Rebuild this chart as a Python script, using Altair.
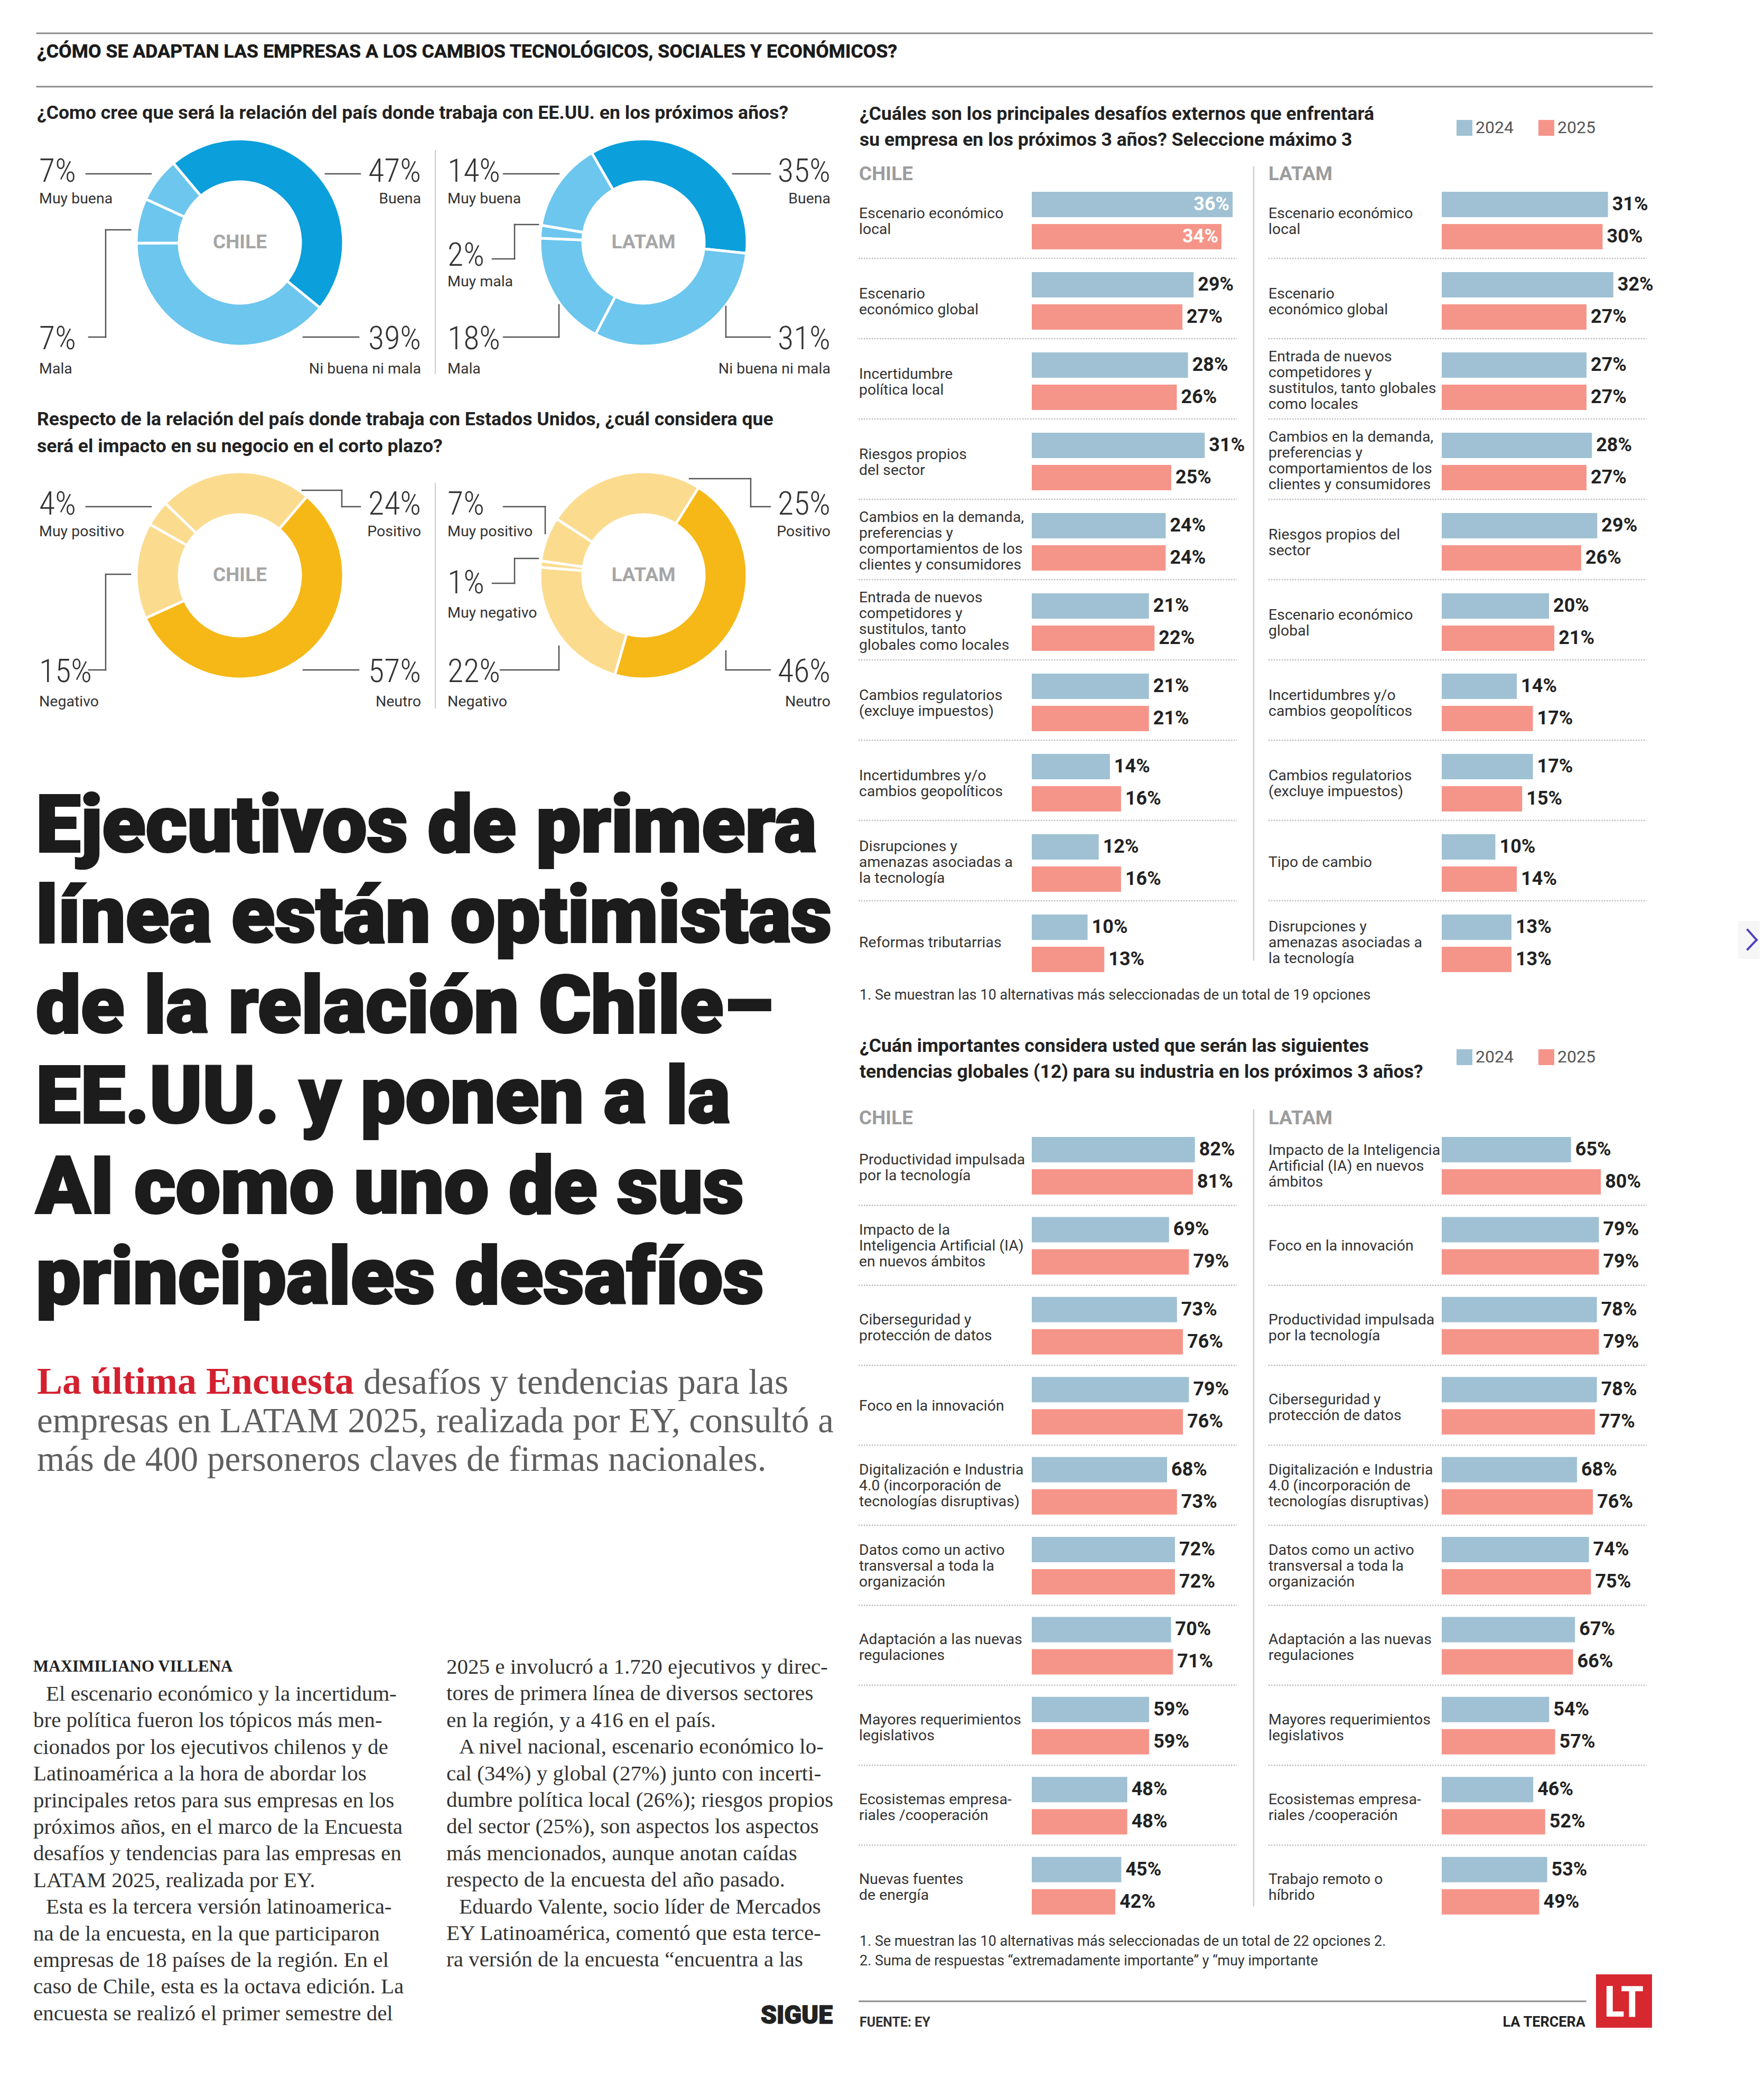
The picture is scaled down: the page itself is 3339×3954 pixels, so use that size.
import math
import altair as alt
import pandas as pd

# ---------------- data ----------------
YEARS = ["2024", "2025"]

REL_CHILE_CATS = ["Buena", "Ni buena ni mala", "Mala", "Muy buena"]
REL_CHILE_VALS = [47, 39, 7, 7]
REL_LATAM_CATS = ["Buena", "Ni buena ni mala", "Mala", "Muy mala", "Muy buena"]
REL_LATAM_VALS = [35, 31, 18, 2, 14]
IMP_CHILE_CATS = ["Positivo", "Neutro", "Negativo", "Muy positivo"]
IMP_CHILE_VALS = [24, 57, 15, 4]
IMP_LATAM_CATS = ["Positivo", "Neutro", "Negativo", "Muy negativo", "Muy positivo"]
IMP_LATAM_VALS = [25, 46, 22, 1, 7]

DES_CL_LABELS = ["Escenario económico\nlocal", "Escenario\neconómico global",
                 "Incertidumbre\npolítica local", "Riesgos propios\ndel sector",
                 "Cambios en la demanda,\npreferencias y\ncomportamientos de los\nclientes y consumidores",
                 "Entrada de nuevos\ncompetidores y\nsustitulos, tanto\nglobales como locales",
                 "Cambios regulatorios\n(excluye impuestos)", "Incertidumbres y/o\ncambios geopolíticos",
                 "Disrupciones y\namenazas asociadas a\nla tecnología", "Reformas tributarrias"]
DES_CL_2024 = [36, 29, 28, 31, 24, 21, 21, 14, 12, 10]
DES_CL_2025 = [34, 27, 26, 25, 24, 22, 21, 16, 16, 13]

DES_LT_LABELS = ["Escenario económico\nlocal", "Escenario\neconómico global",
                 "Entrada de nuevos\ncompetidores y\nsustitulos, tanto globales\ncomo locales",
                 "Cambios en la demanda,\npreferencias y\ncomportamientos de los\nclientes y consumidores",
                 "Riesgos propios del\nsector", "Escenario económico\nglobal",
                 "Incertidumbres y/o\ncambios geopolíticos", "Cambios regulatorios\n(excluye impuestos)",
                 "Tipo de cambio", "Disrupciones y\namenazas asociadas a\nla tecnología"]
DES_LT_2024 = [31, 32, 27, 28, 29, 20, 14, 17, 10, 13]
DES_LT_2025 = [30, 27, 27, 27, 26, 21, 17, 15, 14, 13]

TEN_CL_LABELS = ["Productividad impulsada\npor la tecnología",
                 "Impacto de la\nInteligencia Artificial (IA)\nen nuevos ámbitos",
                 "Ciberseguridad y\nprotección de datos", "Foco en la innovación",
                 "Digitalización e Industria\n4.0 (incorporación de\ntecnologías disruptivas)",
                 "Datos como un activo\ntransversal a toda la\norganización",
                 "Adaptación a las nuevas\nregulaciones", "Mayores requerimientos\nlegislativos",
                 "Ecosistemas empresa-\nriales /cooperación", "Nuevas fuentes\nde energía"]
TEN_CL_2024 = [82, 69, 73, 79, 68, 72, 70, 59, 48, 45]
TEN_CL_2025 = [81, 79, 76, 76, 73, 72, 71, 59, 48, 42]

TEN_LT_LABELS = ["Impacto de la Inteligencia\nArtificial (IA) en nuevos\námbitos",
                 "Foco en la innovación", "Productividad impulsada\npor la tecnología",
                 "Ciberseguridad y\nprotección de datos",
                 "Digitalización e Industria\n4.0 (incorporación de\ntecnologías disruptivas)",
                 "Datos como un activo\ntransversal a toda la\norganización",
                 "Adaptación a las nuevas\nregulaciones", "Mayores requerimientos\nlegislativos",
                 "Ecosistemas empresa-\nriales /cooperación", "Trabajo remoto o\nhíbrido"]
TEN_LT_2024 = [65, 79, 78, 78, 68, 74, 67, 54, 46, 53]
TEN_LT_2025 = [80, 79, 79, 77, 76, 75, 66, 57, 52, 49]

# ---------------- texts ----------------
HEADER = "¿CÓMO SE ADAPTAN LAS EMPRESAS A LOS CAMBIOS TECNOLÓGICOS, SOCIALES Y ECONÓMICOS?"
Q_REL = "¿Como cree que será la relación del país donde trabaja con EE.UU. en los próximos años?"
Q_IMP = ["Respecto de la relación del país donde trabaja con Estados Unidos, ¿cuál considera que",
         "será el impacto en su negocio en el corto plazo?"]
Q_DES = ["¿Cuáles son los principales desafíos externos que enfrentará",
         "su empresa en los próximos 3 años? Seleccione máximo 3"]
Q_TEN = ["¿Cuán importantes considera usted que serán las siguientes",
         "tendencias globales (12) para su industria en los próximos 3 años?"]
HEADLINE = ("Ejecutivos de primera\nlínea están optimistas\nde la relación Chile–\n"
            "EE.UU. y ponen a la\nAI como uno de sus\nprincipales desafíos")
# "|" at the start of a line marks a paragraph indent
LEFT_LINES = ["|El escenario económico y la incertidum-", "bre política fueron los tópicos más men-",
              "cionados por los ejecutivos chilenos y de", "Latinoamérica a la hora de abordar los",
              "principales retos para sus empresas en los", "próximos años, en el marco de la Encuesta",
              "desafíos y tendencias para las empresas en", "LATAM 2025, realizada por EY.",
              "|Esta es la tercera versión latinoamerica-", "na de la encuesta, en la que participaron",
              "empresas de 18 países de la región. En el", "caso de Chile, esta es la octava edición. La",
              "encuesta se realizó el primer semestre del"]
RIGHT_LINES = ["2025 e involucró a 1.720 ejecutivos y direc-", "tores de primera línea de diversos sectores",
               "en la región, y a 416 en el país.", "|A nivel nacional, escenario económico lo-",
               "cal (34%) y global (27%) junto con incerti-", "dumbre política local (26%); riesgos propios",
               "del sector (25%), son aspectos los aspectos", "más mencionados, aunque anotan caídas",
               "respecto de la encuesta del año pasado.", "|Eduardo Valente, socio líder de Mercados",
               "EY Latinoamérica, comentó que esta terce-", "ra versión de la encuesta “encuentra a las"]

# ---------------- styles ----------------
OFF = 8
SANS = "Roboto, 'Liberation Sans', sans-serif"
COND = "'Roboto Condensed', 'Liberation Sans Narrow', Roboto, sans-serif"
SERIF = "'Liberation Serif', 'DejaVu Serif', serif"
INK = "#222222"
GRAY_HEAD = "#9c9c9c"
DARK_BLUE, LIGHT_BLUE = "#0b9fdb", "#6cc6ee"
DARK_Y, LIGHT_Y = "#f5b817", "#fbdb8e"
C24, C25 = "#9fc1d3", "#f5958a"
QSIZE = 35.6
LAB_LH = 30

ONE = alt.Data(values=[{"k": 0}])


def T(x, y, s, size, font=SANS, weight="normal", color=INK, align="left",
      baseline="middle", lh=None, stroke_w=None):
    props = dict(font=font, fontSize=size, fontWeight=weight, color=color,
                 align=align, baseline=baseline)
    if lh is not None:
        props["lineBreak"] = "\n"
        props["lineHeight"] = lh
    if stroke_w is not None:
        props["stroke"] = color
        props["strokeWidth"] = stroke_w
    return alt.Chart(ONE).mark_text(**props).encode(
        x=alt.value(x - OFF), y=alt.value(y - OFF), text=alt.value(s))


def R(x1, y1, x2, y2, color="#555555", w=2.5, dash=None):
    props = dict(color=color, strokeWidth=w, strokeCap="square")
    if dash is not None:
        props["strokeDash"] = dash
        props["strokeCap"] = "butt"
    return alt.Chart(ONE).mark_rule(**props).encode(
        x=alt.value(x1 - OFF), y=alt.value(y1 - OFF),
        x2=alt.value(x2 - OFF), y2=alt.value(y2 - OFF))


def body(x, y0, lines, size=41, lh=50.4, indent=24):
    out = []
    for i, ln in enumerate(lines):
        dx = indent if ln.startswith("|") else 0
        out.append(T(x + dx, y0 + i * lh, ln.lstrip("|"), size, font=SERIF, color="#333333",
                     baseline="alphabetic"))
    return out


def donut(cats, vals, dark_cat, cx, cy, start_deg, dark, light):
    df = pd.DataFrame({"cat": cats, "v": vals, "o": list(range(len(cats)))})
    a0 = math.radians(start_deg)
    return alt.Chart(df).mark_arc(innerRadius=115, outerRadius=196, stroke="white",
                                  strokeWidth=5).encode(
        theta=alt.Theta("v:Q", stack=True,
                        scale=alt.Scale(domain=[0, sum(vals)], range=[a0, a0 + 2 * math.pi])),
        order=alt.Order("o:Q", sort="ascending"),
        color=alt.Color("cat:N", scale=alt.Scale(
            domain=cats, range=[dark if c == dark_cat else light for c in cats]), legend=None),
        x=alt.value(cx - OFF), y=alt.value(cy - OFF))


def donut_labels(cats, vals, places):
    vmap = dict(zip(cats, vals))
    out = []
    for cat, x, yn, yl, al in places:
        out.append(T(x, yn, f"{vmap[cat]}%", 62, font=COND, weight=300, color="#333333", align=al))
        out.append(T(x, yl, cat, 28.5, font=SANS, color="#333333", align=al))
    return out


def bar_panel(labels, v24, v25, x0, ppp, y_top, pitch, pad_outer, align, lab_x,
              sep_x1, sep_x2, legend_xy=None, inside_min=None, dy_lab=0):
    n = len(labels)
    rows = []
    for i in range(n):
        rows.append({"rank": i, "year": YEARS[0], "v": v24[i]})
        rows.append({"rank": i, "year": YEARS[1], "v": v25[i]})
    df = pd.DataFrame(rows)
    ldf = pd.DataFrame({"rank": list(range(n)), "label": labels,
                        "nl": [s.count("\n") + 1 for s in labels]})
    sdf = pd.DataFrame({"rank": list(range(n - 1))})
    ys = alt.Scale(domain=list(range(n)), range=[y_top - OFF, y_top - OFF + pitch * n],
                   paddingInner=0, paddingOuter=0)
    xs = alt.Scale(domain=[0, 100], range=[x0 - OFF, x0 - OFF + ppp * 100])
    offs = alt.Scale(domain=YEARS, paddingInner=13 / 61, paddingOuter=pad_outer, align=align)
    Y = alt.Y("rank:O", scale=ys, axis=None)
    X = alt.X("v:Q", scale=xs, axis=None, stack=None)
    YO = alt.YOffset("year:N", scale=offs)
    if legend_xy is not None:
        leg = alt.Legend(orient="none", legendX=legend_xy[0] - OFF, legendY=legend_xy[1] - OFF,
                         direction="horizontal", title=None, symbolType="square",
                         symbolSize=900, symbolStrokeWidth=0, labelFont=SANS, labelFontSize=32,
                         labelColor="#555555", labelOffset=5, columnPadding=46, padding=0)
    else:
        leg = None
    color = alt.Color("year:N", scale=alt.Scale(domain=YEARS, range=[C24, C25]), legend=leg)

    sep = alt.Chart(sdf).mark_rule(color="#bdbdbd", strokeWidth=2.5, strokeDash=[2.5, 2.5]).encode(
        y=alt.Y("rank:O", scale=ys, axis=None, bandPosition=1),
        x=alt.value(sep_x1 - OFF), x2=alt.value(sep_x2 - OFF))
    bars = alt.Chart(df).mark_bar().encode(x=X, y=Y, yOffset=YO, color=color)
    base_t = alt.Chart(df).transform_calculate(lab="datum.v + '%'")
    out_t = base_t
    if inside_min is not None:
        out_t = base_t.transform_filter(f"datum.v < {inside_min}")
    vals = out_t.mark_text(align="left", baseline="middle", dx=8, font=SANS, fontSize=36,
                           fontWeight="bold", color=INK).encode(
        x=X, y=Y, yOffset=YO, text="lab:N")
    layers = [sep, bars, vals]
    if inside_min is not None:
        ins = base_t.transform_filter(f"datum.v >= {inside_min}").mark_text(
            align="right", baseline="middle", dx=-6, font=SANS, fontSize=36,
            fontWeight="bold", color="white").encode(x=X, y=Y, yOffset=YO, text="lab:N")
        layers.append(ins)
    # category labels, one layer per line count so each block is centred on its group
    for k in sorted(set(ldf["nl"])):
        labs = alt.Chart(ldf).transform_filter(f"datum.nl == {k}").mark_text(
            align="left", baseline="middle", lineBreak="\n", lineHeight=LAB_LH, font=SANS,
            fontSize=28.5, color="#333333", dy=dy_lab - (k - 1) * LAB_LH / 2 + (3 if k == 2 else 0)).encode(
            x=alt.value(lab_x - OFF), y=Y, text="label:N")
        layers.append(labs)
    return alt.layer(*layers)


L = []
# header
L.append(R(70, 63, 3127, 63, "#8c8c8c", 3))
L.append(T(70, 98, HEADER, 35.7, weight="bold", color="#1a1a1a", stroke_w=0.6))
L.append(R(70, 164, 3127, 164, "#8c8c8c", 3))

# ---------------- donuts ----------------
L.append(T(70, 214, Q_REL, QSIZE, weight="bold"))
L.append(donut(REL_CHILE_CATS, REL_CHILE_VALS, "Buena", 454, 459, 320, DARK_BLUE, LIGHT_BLUE))
L.append(donut(REL_LATAM_CATS, REL_LATAM_VALS, "Buena", 1218, 459, 330, DARK_BLUE, LIGHT_BLUE))
L.append(T(70, 794, Q_IMP[0], QSIZE, weight="bold"))
L.append(T(70, 845, Q_IMP[1], QSIZE, weight="bold"))
L.append(donut(IMP_CHILE_CATS, IMP_CHILE_VALS, "Neutro", 454, 1089, 314, DARK_Y, LIGHT_Y))
L.append(donut(IMP_LATAM_CATS, IMP_LATAM_VALS, "Neutro", 1218, 1089, 303, DARK_Y, LIGHT_Y))
for cx, cy, s in [(454, 459, "CHILE"), (1218, 459, "LATAM"), (454, 1089, "CHILE"), (1218, 1089, "LATAM")]:
    L.append(T(cx, cy, s, 37, weight="bold", color="#a6a6a6", align="center"))

L += donut_labels(REL_CHILE_CATS, REL_CHILE_VALS, [
    ("Muy buena", 74, 325, 376, "left"), ("Buena", 797, 325, 376, "right"),
    ("Mala", 74, 642, 698, "left"), ("Ni buena ni mala", 797, 642, 698, "right")])
L += donut_labels(REL_LATAM_CATS, REL_LATAM_VALS, [
    ("Muy buena", 847, 325, 376, "left"), ("Buena", 1572, 325, 376, "right"),
    ("Muy mala", 847, 484, 533, "left"), ("Mala", 847, 642, 698, "left"),
    ("Ni buena ni mala", 1572, 642, 698, "right")])
L += donut_labels(IMP_CHILE_CATS, IMP_CHILE_VALS, [
    ("Muy positivo", 74, 955, 1006, "left"), ("Positivo", 797, 955, 1006, "right"),
    ("Negativo", 74, 1272, 1328, "left"), ("Neutro", 797, 1272, 1328, "right")])
L += donut_labels(IMP_LATAM_CATS, IMP_LATAM_VALS, [
    ("Muy positivo", 847, 955, 1006, "left"), ("Positivo", 1572, 955, 1006, "right"),
    ("Muy negativo", 847, 1104, 1160, "left"), ("Negativo", 847, 1272, 1328, "left"),
    ("Neutro", 1572, 1272, 1328, "right")])

LEADERS = [
    (163, 329, 286, 329), (616, 329, 682, 329), (168, 638, 200, 638), (200, 638, 200, 435),
    (200, 435, 247, 435), (574, 638, 679, 638),
    (953, 329, 1058, 329), (1387, 329, 1458, 329), (932, 490, 974, 490), (974, 490, 974, 425),
    (974, 425, 1019, 425), (953, 638, 1058, 638), (1058, 638, 1058, 577), (1374, 580, 1374, 638),
    (1374, 638, 1458, 638),
    (163, 959, 286, 959), (572, 928, 647, 928), (647, 928, 647, 959), (647, 959, 682, 959),
    (200, 1087, 247, 1087), (200, 1087, 200, 1268), (168, 1268, 200, 1268), (574, 1268, 679, 1268),
    (953, 959, 1032, 959), (1032, 959, 1032, 1010), (932, 1104, 974, 1104), (974, 1104, 974, 1057),
    (974, 1057, 1019, 1057), (947, 1268, 1058, 1268), (1058, 1268, 1058, 1223),
    (1305, 906, 1421, 906), (1421, 906, 1421, 959), (1421, 959, 1458, 959),
    (1374, 1232, 1374, 1268), (1374, 1268, 1458, 1268),
]
for seg in LEADERS:
    L.append(R(*seg, color="#555555", w=2.5))
L.append(R(824, 285, 824, 707, "#cccccc", 2))
L.append(R(824, 915, 824, 1340, "#cccccc", 2))

# ---------------- headline & article ----------------
L.append(T(68, 1612, HEADLINE, 151, font=SANS, weight=900, color="#1c1c1c",
           baseline="alphabetic", lh=171, stroke_w=4))
L.append(T(70, 2638, "La última Encuesta", 72, font=SERIF, weight="bold", color="#d3202f",
           baseline="alphabetic"))
L.append(T(688, 2638, "desafíos y tendencias para las", 68, font=SERIF, color="#5f5f5f",
           baseline="alphabetic"))
L.append(T(70, 2711, "empresas en LATAM 2025, realizada por EY, consultó a\n"
                     "más de 400 personeros claves de firmas nacionales.", 67, font=SERIF,
           color="#5f5f5f", baseline="alphabetic", lh=73))
L.append(T(63, 3155, "MAXIMILIANO VILLENA", 31, font=SERIF, weight="bold", color=INK))
L += body(63, 3219, LEFT_LINES)
L += body(845, 3168, RIGHT_LINES)
L.append(T(1576, 3816, "SIGUE", 48, font=SANS, weight=900, color=INK, align="right", stroke_w=1.5))

# ---------------- right column: desafíos ----------------
L.append(T(1627, 216, Q_DES[0], QSIZE, weight="bold"))
L.append(T(1627, 265, Q_DES[1], QSIZE, weight="bold"))
L.append(T(1626, 330, "CHILE", 37, weight="bold", color=GRAY_HEAD))
L.append(T(2401, 330, "LATAM", 37, weight="bold", color=GRAY_HEAD))
L.append(R(2373, 316, 2373, 1817, "#cfcfcf", 2.5))
L.append(bar_panel(DES_CL_LABELS, DES_CL_2024, DES_CL_2025, 1953, 10.56, 337, 152, 0.3525, 0.605,
                   1626, 1625, 2341, legend_xy=(2756, 226), inside_min=33, dy_lab=3))
L.append(bar_panel(DES_LT_LABELS, DES_LT_2024, DES_LT_2025, 2729, 10.15, 337, 152, 0.3525, 0.605,
                   2401, 2401, 3117, dy_lab=3))
L.append(T(1627, 1884, "1. Se muestran las 10 alternativas más seleccionadas de un total de 19 opciones",
           27, color="#333333"))

# ---------------- right column: tendencias ----------------
L.append(T(1627, 1980, Q_TEN[0], QSIZE, weight="bold"))
L.append(T(1627, 2029, Q_TEN[1], QSIZE, weight="bold"))
L.append(T(1626, 2117, "CHILE", 37, weight="bold", color=GRAY_HEAD))
L.append(T(2401, 2117, "LATAM", 37, weight="bold", color=GRAY_HEAD))
L.append(R(2373, 2101, 2373, 3607, "#cfcfcf", 2.5))
L.append(bar_panel(TEN_CL_LABELS, TEN_CL_2024, TEN_CL_2025, 1953, 3.765, 2130, 151.4, 0.3475, 0.52,
                   1626, 1625, 2341, legend_xy=(2756, 1985), dy_lab=1))
L.append(bar_panel(TEN_LT_LABELS, TEN_LT_2024, TEN_LT_2025, 2729, 3.765, 2130, 151.4, 0.3475, 0.52,
                   2401, 2401, 3117, dy_lab=1))
L.append(T(1627, 3675, "1. Se muestran las 10 alternativas más seleccionadas de un total de 22 opciones 2.",
           27, color="#333333"))
L.append(T(1627, 3712, "2. Suma de respuestas “extremadamente importante” y “muy importante",
           27, color="#333333"))

# ---------------- footer ----------------
L.append(R(1627, 3788, 3001, 3788, "#8c8c8c", 3))
L.append(T(1627, 3828, "FUENTE: EY", 25, weight="bold", color="#333333"))
L.append(T(3001, 3828, "LA TERCERA", 27, weight="bold", color=INK, align="right"))
L.append(alt.Chart(ONE).mark_rect(color="#d7282f").encode(
    x=alt.value(3021 - OFF), x2=alt.value(3127 - OFF), y=alt.value(3737 - OFF), y2=alt.value(3838 - OFF)))
L.append(T(3074, 3792, "LT", 82, font=COND, weight="bold", color="white", align="center"))

# page-turn arrow at the right edge
L.append(alt.Chart(ONE).mark_rect(color="#f6f6f6").encode(
    x=alt.value(3290 - OFF), x2=alt.value(3331 - OFF), y=alt.value(1743 - OFF), y2=alt.value(1815 - OFF)))
L.append(R(3308, 1760, 3325, 1779, "#4b3fbf", 4))
L.append(R(3325, 1779, 3308, 1797, "#4b3fbf", 4))

chart = alt.layer(*L).properties(
    width=3323, height=3900, padding=0, background="white"
).resolve_scale(
    x="independent", y="independent", theta="independent", color="independent", yOffset="independent"
).resolve_legend(color="independent").configure_view(stroke=None)

chart.save("out.html", embed_options={"renderer": "svg", "actions": False})
